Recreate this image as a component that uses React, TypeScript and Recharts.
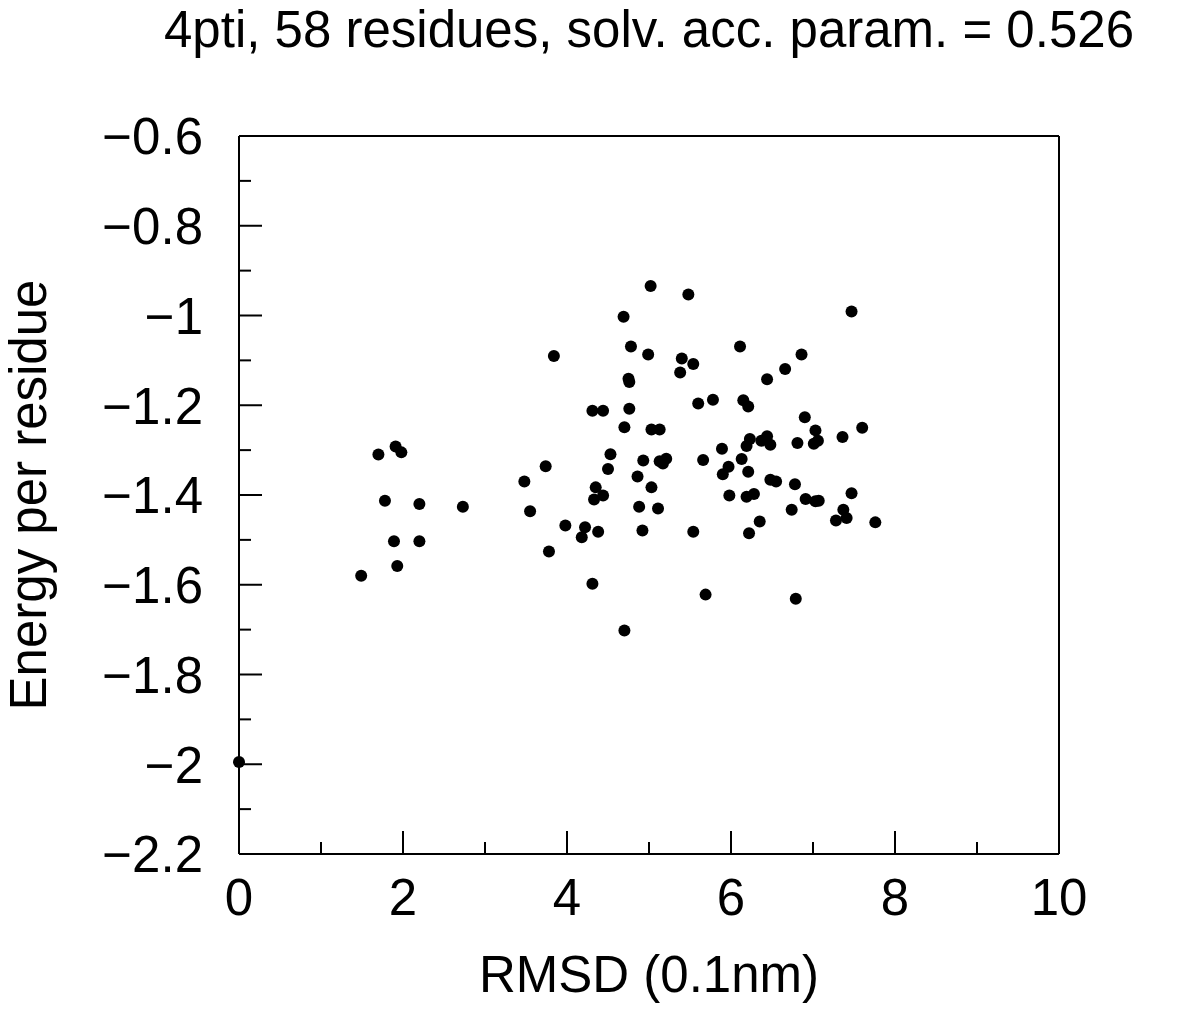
import React from 'react';
import { ScatterChart, Scatter, XAxis, YAxis, Label } from 'recharts';

// RMSD (0.1nm) of each decoy
const rmsd = [
  0, 1.49, 1.7, 1.78, 1.91, 1.98, 1.89, 1.93, 2.2, 2.2,
  2.73, 3.48, 3.55, 3.74, 3.78, 3.84, 3.98, 4.22, 4.18, 4.31,
  4.35, 4.33, 4.31, 4.38, 4.44, 4.44, 4.5, 4.53, 4.69, 4.7,
  4.7, 4.75, 4.76, 4.76, 4.78, 4.86, 4.88, 4.92, 4.93, 4.99,
  5.02, 5.03, 5.13, 5.03, 5.13, 5.21, 5.17, 5.11, 5.4, 5.38,
  5.48, 5.54, 5.54, 5.6, 5.66, 5.69, 5.78, 5.89, 5.9, 5.97,
  5.98, 6.11, 6.13, 6.15, 6.21, 6.19, 6.23, 6.21, 6.19, 6.22,
  6.28, 6.35, 6.37, 6.44, 6.44, 6.48, 6.48, 6.55, 6.66, 6.74,
  6.78, 6.79, 6.81, 6.86, 6.9, 6.91, 7.01, 7.06, 7.03, 7.03,
  7.07, 7.28, 7.36, 7.37, 7.41, 7.47, 7.47, 7.6, 7.76,
];

// energy per residue of each decoy
const energy = [
  -1.995, -1.58, -1.31, -1.413, -1.292, -1.305, -1.503, -1.558, -1.42, -1.503,
  -1.426, -1.37, -1.436, -1.336, -1.526, -1.09, -1.468, -1.472, -1.494, -1.598,
  -1.383, -1.41, -1.212, -1.482, -1.212, -1.401, -1.342, -1.309, -1.003, -1.249,
  -1.702, -1.141, -1.148, -1.208, -1.069, -1.359, -1.426, -1.479, -1.323, -1.087,
  -0.934, -1.254, -1.254, -1.383, -1.325, -1.319, -1.33, -1.43, -1.096, -1.127,
  -0.953, -1.108, -1.482, -1.196, -1.322, -1.622, -1.188, -1.297, -1.354, -1.337,
  -1.401, -1.069, -1.32, -1.189, -1.203, -1.291, -1.275, -1.348, -1.404, -1.485,
  -1.398, -1.459, -1.279, -1.269, -1.142, -1.288, -1.366, -1.37, -1.119, -1.433,
  -1.376, -1.631, -1.284, -1.087, -1.227, -1.409, -1.286, -1.279, -1.256, -1.414,
  -1.413, -1.457, -1.271, -1.433, -1.451, -0.991, -1.396, -1.25, -1.461,
];

const xTicks = [0, 1, 2, 3, 4, 5, 6, 7, 8, 9, 10];
const yTicks = [
  -2.2, -2.1, -2.0, -1.9, -1.8, -1.7, -1.6, -1.5, -1.4, -1.3,
  -1.2, -1.1, -1.0, -0.9, -0.8, -0.7, -0.6,
];

const title = '4pti, 58 residues, solv. acc. param. = 0.526';
const xTitle = 'RMSD (0.1nm)';
const yTitle = 'Energy per residue';

const points = rmsd.map((x, i) => ({ x, y: energy[i] }));

const FONT = '"Liberation Sans", Arial, Helvetica, sans-serif';
const FS = 51;
const MAJOR = 23;
const MINOR = 12;

const isMajorX = (v: number) => Math.round(v) % 2 === 0;
const isMajorY = (v: number) => Math.round(v * 10) % 2 === 0;
const fmtY = (v: number) => String(Math.round(v * 10) / 10).replace('-', '\u2212');

const BottomTick = ({ x, y, payload }: any) => {
  const major = isMajorX(payload.value);
  return (
    <g>
      <line x1={x} y1={y} x2={x} y2={y - (major ? MAJOR : MINOR)} stroke="#000" strokeWidth={2} />
      {major && (
        <text x={x} y={y + 61} textAnchor="middle" fontSize={FS} fontFamily={FONT} fill="#000">
          {payload.value}
        </text>
      )}
    </g>
  );
};

const TopTick = ({ x, y, payload }: any) => {
  const major = isMajorX(payload.value);
  return <line x1={x} y1={y} x2={x} y2={y + (major ? MAJOR : MINOR)} stroke="#000" strokeWidth={2} />;
};

const LeftTick = ({ x, y, payload }: any) => {
  const major = isMajorY(payload.value);
  return (
    <g>
      <line x1={x} y1={y} x2={x + (major ? MAJOR : MINOR)} y2={y} stroke="#000" strokeWidth={2} />
      {major && (
        <text x={x - 36} y={y} dy="0.36em" textAnchor="end" fontSize={FS} fontFamily={FONT} fill="#000">
          {fmtY(payload.value)}
        </text>
      )}
    </g>
  );
};

const RightTick = ({ x, y, payload }: any) => {
  const major = isMajorY(payload.value);
  return <line x1={x} y1={y} x2={x - (major ? MAJOR : MINOR)} y2={y} stroke="#000" strokeWidth={2} />;
};

const Dot = (props: any) => <circle cx={props.cx} cy={props.cy} r={6} fill="#000" />;

export default function App() {
  return (
    <div style={{ position: 'absolute', left: 0, top: 0, background: '#fff' }}>
      <ScatterChart width={1190} height={1020} margin={{ top: 116, right: 111, bottom: 106, left: 139 }}>
        <XAxis
          dataKey="x"
          type="number"
          domain={[0, 10]}
          ticks={xTicks}
          interval={0}
          tickSize={0}
          tickMargin={0}
          tickLine={false}
          tick={<BottomTick />}
          height={60}
          axisLine={{ stroke: '#000', strokeWidth: 2 }}
        >
          <Label
            content={({ viewBox }: any) => (
              <text
                x={viewBox.x + viewBox.width / 2}
                y={viewBox.y + 138}
                textAnchor="middle"
                fontSize={FS}
                fontFamily={FONT}
                fill="#000"
              >
                {xTitle}
              </text>
            )}
          />
        </XAxis>
        <XAxis
          xAxisId="top"
          orientation="top"
          type="number"
          domain={[0, 10]}
          ticks={xTicks}
          interval={0}
          tickSize={0}
          tickMargin={0}
          tickLine={false}
          tick={<TopTick />}
          height={20}
          axisLine={{ stroke: '#000', strokeWidth: 2 }}
        >
          <Label
            content={({ viewBox }: any) => (
              <text
                x={viewBox.x + viewBox.width / 2}
                y={47}
                textAnchor="middle"
                fontSize={FS}
                fontFamily={FONT}
                fill="#000"
              >
                {title}
              </text>
            )}
          />
        </XAxis>
        <YAxis
          dataKey="y"
          type="number"
          domain={[-2.2, -0.6]}
          ticks={yTicks}
          interval={0}
          tickSize={0}
          tickMargin={0}
          tickLine={false}
          tick={<LeftTick />}
          width={100}
          axisLine={{ stroke: '#000', strokeWidth: 2 }}
        >
          <Label
            content={({ viewBox }: any) => {
              const cy = viewBox.y + viewBox.height / 2;
              return (
                <text
                  x={46}
                  y={cy}
                  transform={`rotate(-90, 46, ${cy})`}
                  textAnchor="middle"
                  fontSize={FS}
                  fontFamily={FONT}
                  fill="#000"
                >
                  {yTitle}
                </text>
              );
            }}
          />
        </YAxis>
        <YAxis
          yAxisId="right"
          orientation="right"
          type="number"
          domain={[-2.2, -0.6]}
          ticks={yTicks}
          interval={0}
          tickSize={0}
          tickMargin={0}
          tickLine={false}
          tick={<RightTick />}
          width={20}
          axisLine={{ stroke: '#000', strokeWidth: 2 }}
        />
        <Scatter data={points} fill="#000" shape={<Dot />} isAnimationActive={false} />
      </ScatterChart>
    </div>
  );
}
